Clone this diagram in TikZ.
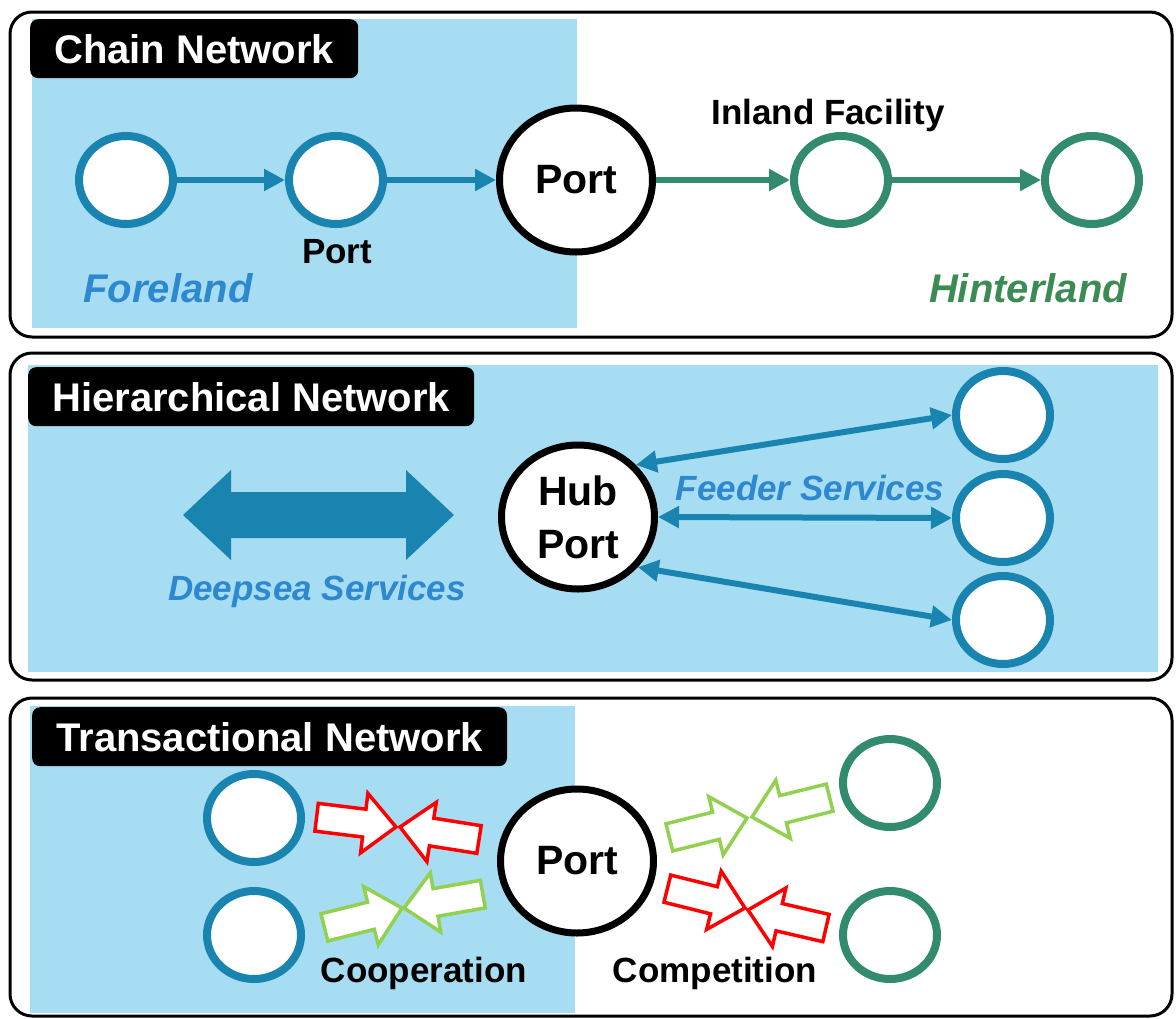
\documentclass[tikz,border=0pt]{standalone}
\usepackage{fontspec}
\setmainfont{Liberation Sans}
\usetikzlibrary{arrows.meta,shapes.geometric}
\definecolor{seablue}{RGB}{166,221,242}
\definecolor{nodeblue}{RGB}{26,132,176}
\definecolor{textblue}{RGB}{46,136,207}
\definecolor{landgreen}{RGB}{50,139,111}
\definecolor{textgreen}{RGB}{60,139,85}
\definecolor{coopgreen}{RGB}{146,208,80}
\definecolor{compred}{RGB}{255,0,0}
\tikzset{blockarrow/.pic={
  \draw[line width=3.5pt,fill=white,miter limit=4] (0,0) -- (-32,-30) -- (-32,-14) -- (-80,-14) -- (-80,14) -- (-32,14) -- (-32,30) -- cycle;}}

\begin{document}
\begin{tikzpicture}[x=1pt,y=-1pt,
    >={Triangle[length=21pt,width=21pt]},
    panel/.style={draw=black,line width=3pt,rounded corners=22pt},
    title/.style={fill=black,text=white,rounded corners=8pt,inner xsep=24pt,inner ysep=0pt,
      minimum height=59pt,anchor=north west,font=\fontsize{40}{44}\selectfont\bfseries},
    spot/.style={ellipse,fill=white,line width=8pt,minimum width=94pt,minimum height=88pt},
    fore/.style={spot,draw=nodeblue},
    hinter/.style={spot,draw=landgreen},
    port/.style={ellipse,draw=black,fill=white,line width=7pt,minimum width=153pt,minimum height=144pt,
      align=center,font=\fontsize{41}{53}\selectfont\bfseries},
    flow/.style={line width=6pt,draw=nodeblue},
    lbl/.style={anchor=base,inner sep=0pt,font=\fontsize{35}{40}\selectfont\bfseries},
    area/.style={anchor=base,inner sep=0pt,font=\fontsize{40}{44}\selectfont\bfseries\itshape}]
  \useasboundingbox (0,0) rectangle (1176,1018);
  % chain
  \fill[seablue] (32,19) rectangle (577,328);
  \draw[panel] (10,12) rectangle (1172,337);
  \node[title] (chaintitle) at (30,19) {Chain Network};
  \node[fore] (c1) at (126,180) {};
  \node[fore] (c2) at (336,180) {};
  \node[port] (chainport) at (576,180) {Port};
  \node[hinter] (c3) at (841,180) {};
  \node[hinter] (c4) at (1092,180) {};
  \draw[->,flow] (c1) -- (c2);
  \draw[->,flow] (c2) -- (chainport);
  \draw[->,flow,draw=landgreen] (chainport) -- (c3);
  \draw[->,flow,draw=landgreen] (c3) -- (c4);
  \node[lbl] (portlbl) at (337,263) {Port};
  \node[lbl] (inland) at (828,124) {Inland Facility};
  \node[area,text=textblue] (foreland) at (168,302) {Foreland};
  \node[area,text=textgreen] (hinterland) at (1028,302) {Hinterland};
  % hierarchical
  \fill[seablue] (28,365) rectangle (1158,672);
  \draw[panel] (10,353) rectangle (1172,680);
  \node[title] (hiertitle) at (28,367) {Hierarchical Network};
  \fill[nodeblue] (183,515) -- (231,470) -- (231,492) -- (406,492) -- (406,470) -- (454,515)
    -- (406,560) -- (406,538) -- (231,538) -- (231,560) -- cycle;
  \node[lbl,font=\fontsize{35}{40}\selectfont\bfseries\itshape,text=textblue] (deepsea) at (317,600) {Deepsea Services};
  \node[port] (hub) at (578,517) {Hub\\Port};
  \node[fore] (f1) at (1003,415) {};
  \node[fore] (f2) at (1003,518) {};
  \node[fore] (f3) at (1003,620) {};
  \draw[<->,flow] (hub.42) -- (f1.west);
  \draw[<->,flow] (hub.east) -- (f2.west);
  \draw[<->,flow] (hub.-40) -- (f3.west);
  \node[lbl,font=\fontsize{35}{40}\selectfont\bfseries\itshape,text=textblue] (feeder) at (810,500) {Feeder Services};
  % transactional
  \fill[seablue] (30,706) rectangle (575,1013);
  \draw[panel] (10,698) rectangle (1172,1016);
  \node[title] (transtitle) at (32,707) {Transactional Network};
  \node[fore] (t1) at (254,818) {};
  \node[fore] (t2) at (254,935) {};
  \node[port] (transport) at (577,861) {Port};
  \node[hinter] (g1) at (890,783) {};
  \node[hinter] (g2) at (890,935) {};
  \pic[color=compred,rotate=-7] (compa) at (396,827) {blockarrow};
  \pic[color=compred,rotate=171] (compb) at (400,827) {blockarrow};
  \pic[color=coopgreen,rotate=14] (coopa) at (402,908) {blockarrow};
  \pic[color=coopgreen,rotate=190] (coopb) at (404,908) {blockarrow};
  \pic[color=coopgreen,rotate=14] (coopc) at (747,818) {blockarrow};
  \pic[color=coopgreen,rotate=194] (coopd) at (752,817) {blockarrow};
  \pic[color=compred,rotate=-14] (compc) at (745,908) {blockarrow};
  \pic[color=compred,rotate=167] (compd) at (748,910) {blockarrow};
  \node[lbl] (coop) at (424,982) {Cooperation};
  \node[lbl] (comp) at (715,982) {Competition};
\end{tikzpicture}
\end{document}
